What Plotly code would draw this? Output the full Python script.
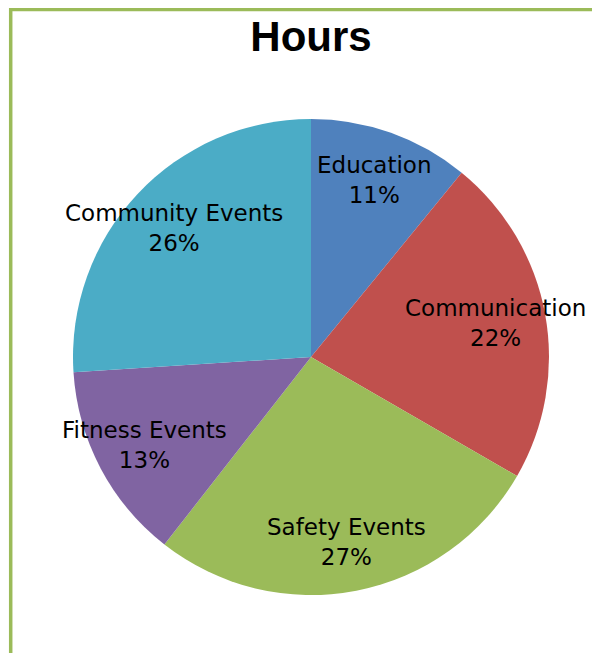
import math
import plotly.graph_objects as go

categories = ["Education", "Communication", "Safety Events", "Fitness Events", "Community Events"]
hours = [10.9, 22.4, 27.2, 13.4, 26.0]
colors = ["#4F81BD", "#C0504D", "#9BBB59", "#8064A2", "#4BACC6"]
title_text = "Hours"

W, H = 600, 653
OFF = 8  # page body margin
ml, mr, mt, mb = 73 - OFF, 51 + OFF, 119 - OFF, 58 + OFF

fig = go.Figure(go.Pie(
    labels=categories,
    values=hours,
    sort=False,
    direction="clockwise",
    rotation=0,
    marker=dict(colors=colors, line=dict(width=0)),
    textinfo="none",
    hoverinfo="label+percent",
    showlegend=False,
    domain=dict(x=[0, 1], y=[0, 1]),
))

total = sum(hours)
cum = 0.0
annotations = []
for lab, v in zip(categories, hours):
    mid = (cum + v / 2) / total * 2 * math.pi
    cum += v
    r = 0.5 * 0.79
    annotations.append(dict(
        x=0.5 + r * math.sin(mid), y=0.5 + r * math.cos(mid),
        xref="paper", yref="paper", showarrow=False,
        text=f"{lab}<br>{round(v / total * 100)}%",
        font=dict(family="DejaVu Sans", size=23, color="#000000"),
        xanchor="center", yanchor="middle", align="center",
    ))

pw = W - ml - mr
ph = H - mt - mb
def px_x(p):
    return (p - OFF - ml) / pw
def px_y(p):
    return (H - mb - (p - OFF)) / ph

xl = px_x(10.7)
yt = px_y(9.5)
fig.add_shape(type="path", xref="paper", yref="paper",
              path=f"M {xl} {px_y(720)} L {xl} {yt} L {px_x(720)} {yt}",
              line=dict(color="#9BBB59", width=3.5))

fig.update_layout(
    width=W, height=H,
    margin=dict(l=ml, r=mr, t=mt, b=mb),
    paper_bgcolor="white", plot_bgcolor="white",
    title=dict(text="<b>" + title_text + "</b>", x=(311 - OFF) / W, xanchor="center",
               y=1 - (36 - OFF) / H, yanchor="middle",
               font=dict(family="Liberation Sans", size=42, color="#000000")),
    annotations=annotations,
)

fig.write_html("out.html")
